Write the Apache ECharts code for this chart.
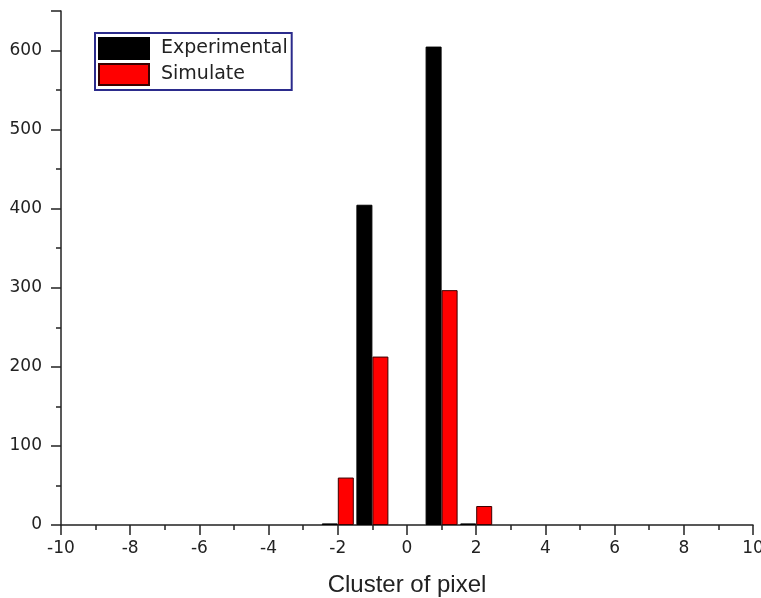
<!DOCTYPE html>
<html>
<head>
<meta charset="utf-8">
<script src="https://cdn.jsdelivr.net/npm/echarts@6/dist/echarts.min.js"></script>
<style>html,body{margin:0;padding:0;background:#fff;}#c{width:761px;height:598px;}</style>
</head>
<body>
<div id="c"></div>
<script>
var clusters = [-2, -1, 1, 2];
var experimental = [2, 405, 605, 2];
var simulate = [60, 213, 297, 24];
var xTicks = [-10, -8, -6, -4, -2, 0, 2, 4, 6, 8, 10];
var yTicks = [0, 100, 200, 300, 400, 500, 600];

var chart = echarts.init(document.getElementById('c'));
var font = 'Liberation Sans, Arial, sans-serif';
var lblFont = 'DejaVu Sans, sans-serif';
function pairs(vals) { return clusters.map(function (c, i) { return [c, vals[i]]; }); }
chart.setOption({
  animation: false,
  backgroundColor: '#fff',
  grid: { left: 61, right: 8, top: 11, bottom: 73, containLabel: false, outerBoundsMode: 'none' },
  legend: {
    orient: 'vertical', left: 95, top: 33,
    padding: [4, 4, 4, 3],
    icon: 'rect',
    itemWidth: 50, itemHeight: 21, itemGap: 3,
    borderColor: '#2b2b8c', borderWidth: 2,
    textStyle: { fontFamily: lblFont, fontSize: 19, color: '#222', padding: [0, 0, 0, 7] },
    data: ['Experimental', 'Simulate']
  },
  xAxis: {
    type: 'value', min: xTicks[0], max: xTicks[xTicks.length - 1], interval: 2,
    name: 'Cluster of pixel', nameLocation: 'middle', nameGap: 48,
    nameTextStyle: { fontFamily: font, fontSize: 24, color: '#222' },
    axisLine: { show: true, onZero: false, lineStyle: { color: '#222', width: 1.5 } },
    axisTick: { show: true, length: 10, lineStyle: { color: '#222', width: 1.5 } },
    minorTick: { show: true, splitNumber: 2, length: 5, lineStyle: { color: '#222', width: 1.5 } },
    splitLine: { show: false },
    axisLabel: { fontFamily: lblFont, fontSize: 17, color: '#222', margin: 15,
      formatter: function (v) { return xTicks.indexOf(v) >= 0 ? String(v) : ''; } }
  },
  yAxis: {
    type: 'value', min: 0, max: 650, interval: 100,
    axisLine: { show: true, onZero: false, lineStyle: { color: '#222', width: 1.5 } },
    axisTick: { show: true, length: 10, lineStyle: { color: '#222', width: 1.5 } },
    minorTick: { show: true, splitNumber: 2, length: 5, lineStyle: { color: '#222', width: 1.5 } },
    splitLine: { show: false },
    axisLabel: { fontFamily: lblFont, fontSize: 17, color: '#222', margin: 19,
      formatter: function (v) { return yTicks.indexOf(v) >= 0 ? String(v) : ''; } }
  },
  series: [
    { name: 'Experimental', type: 'bar', barWidth: 16, barGap: '0%',
      data: pairs(experimental),
      itemStyle: { color: '#000', borderColor: '#000', borderWidth: 1 } },
    { name: 'Simulate', type: 'bar', barWidth: 16, barGap: '0%',
      data: pairs(simulate),
      itemStyle: { color: '#ff0000', borderColor: '#3a0000', borderWidth: 1 } }
  ]
});
</script>
</body>
</html>
